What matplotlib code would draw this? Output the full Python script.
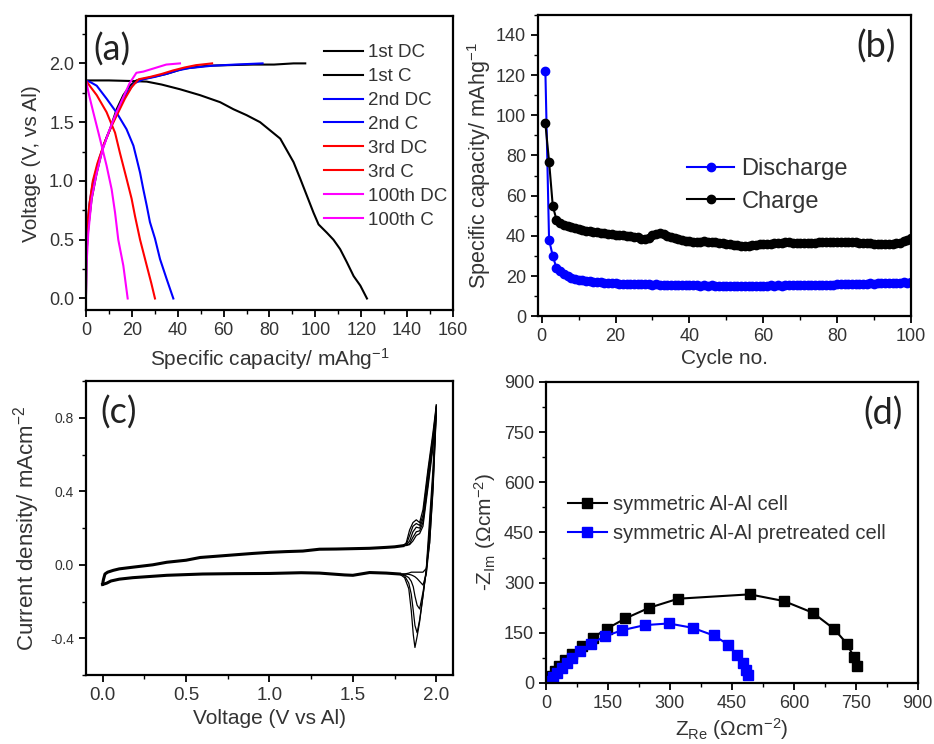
import numpy as np
import matplotlib
matplotlib.use("Agg")
import matplotlib.pyplot as plt
from matplotlib.ticker import MultipleLocator, FormatStrFormatter

plt.rcParams['font.family'] = ['Liberation Sans', 'DejaVu Sans']
plt.rcParams['mathtext.default'] = 'regular'
TXT = '#333333'

# ---- (a) charge / discharge profiles (capacity mAh/g, voltage V)
dc1_cap = [0, 10, 20, 26.5, 33, 41, 49.7, 58.5, 64.3, 70, 75.9, 80.3, 84.7, 87.6, 90.5, 93.4,
           96.3, 99.2, 101.4, 105, 107.9, 110.8, 113.7, 116.7, 119.6, 122.5]
dc1_v = [1.855, 1.855, 1.85, 1.845, 1.82, 1.78, 1.73, 1.67, 1.61, 1.56, 1.5, 1.43, 1.36, 1.26, 1.16, 1.02,
         0.875, 0.73, 0.63, 0.56, 0.5, 0.42, 0.31, 0.19, 0.11, 0.0]
c1_cap = [0, 0.3, 1, 2.5, 4.7, 7.6, 10.5, 13.4, 16.3, 19.2, 22, 28, 35, 42.5, 52.7, 62, 73, 82, 90.5, 95.6]
c1_v = [0.0, 0.4, 0.6, 0.85, 1.07, 1.3, 1.44, 1.61, 1.73, 1.81, 1.855, 1.88, 1.91, 1.955, 1.98, 1.985,
        1.99, 1.99, 2.0, 2.0]
dc2_cap = [0, 2, 4.7, 9, 13.4, 17.7, 20.7, 22.1, 23.6, 25, 26.5, 27.9, 30.1, 32.3, 35.2, 38.1]
dc2_v = [1.855, 1.84, 1.81, 1.7, 1.58, 1.44, 1.3, 1.19, 1.07, 0.93, 0.79, 0.65, 0.51, 0.335, 0.165, 0.0]
c2_cap = [0, 0.5, 1.5, 3, 6, 9, 12, 15, 18, 21, 25, 30, 35, 40, 45, 55, 65, 77]
c2_v = [0.3, 0.55, 0.8, 0.98, 1.2, 1.37, 1.51, 1.64, 1.75, 1.83, 1.865, 1.885, 1.91, 1.94, 1.96, 1.98, 1.99, 2.0]
dc3_cap = [0, 2, 4.7, 9, 12.7, 14.8, 17.7, 19.9, 21.4, 23.6, 26.5, 28.5, 30.1]
dc3_v = [1.855, 1.8, 1.73, 1.585, 1.41, 1.24, 1.02, 0.85, 0.7, 0.5, 0.28, 0.13, 0.0]
c3_cap = [0, 0.5, 1.5, 3, 5, 8, 11, 14, 17, 20, 23, 28, 33, 38, 43, 48, 55]
c3_v = [0.35, 0.6, 0.8, 1.0, 1.15, 1.32, 1.46, 1.58, 1.7, 1.8, 1.865, 1.885, 1.91, 1.94, 1.965, 1.985, 2.0]
dc100_cap = [0, 0, 1.5, 3.2, 6.1, 9, 11.2, 12.7, 14.1, 16.3, 18.2]
dc100_v = [2.0, 1.855, 1.72, 1.585, 1.36, 1.13, 0.93, 0.73, 0.5, 0.28, 0.0]
c100_cap = [0, 0.3, 1, 2.5, 4.5, 7, 10, 13, 16, 19, 22, 25, 30, 35, 41]
c100_v = [0.0, 0.3, 0.55, 0.85, 1.05, 1.25, 1.42, 1.57, 1.7, 1.83, 1.92, 1.93, 1.96, 1.99, 2.0]

# ---- (b) cycling
cycle_no = np.arange(1, 101)
discharge_cap = [122, 38, 30, 24, 22.5, 21, 20, 19.2, 18.6, 18.2,
                 17.9, 17.6, 17.3, 17.1, 16.9, 16.8, 16.6, 16.5, 16.4, 16.3,
                 16.1, 16.2, 16.0, 16.1, 15.9, 16.0, 15.8, 15.9, 15.8, 15.7,
                 15.8, 15.7, 15.6, 15.7, 15.5, 15.6, 15.4, 15.5, 15.4, 15.3,
                 15.4, 15.3, 15.2, 15.3, 15.2, 15.3, 15.2, 15.1, 15.2, 15.1,
                 15.2, 15.1, 15.2, 15.1, 15.2, 15.1, 15.2, 15.2, 15.1, 15.2,
                 15.2, 15.3, 15.2, 15.3, 15.2, 15.3, 15.3, 15.4, 15.3, 15.4,
                 15.4, 15.5, 15.4, 15.6, 15.5, 15.6, 15.6, 15.7, 15.6, 15.8,
                 15.8, 15.9, 16.0, 15.9, 16.1, 16.0, 16.2, 16.1, 16.3, 16.2,
                 16.4, 16.3, 16.5, 16.4, 16.6, 16.5, 16.7, 16.8, 16.7, 17.0]
charge_cap = [96, 77, 55, 48, 46.5, 45.5, 44.8, 44.2, 43.8, 43.4,
              43.0, 42.6, 42.3, 42.0, 41.8, 41.5, 41.3, 41.0, 40.8, 40.6,
              40.4, 40.2, 40.1, 39.9, 39.6, 39.2, 38.6, 38.3, 38.9, 40.2,
              41.0, 41.2, 40.8, 40.1, 39.4, 38.8, 38.3, 37.9, 37.5, 37.3,
              37.1, 37.0, 36.9, 37.2, 37.0, 36.8, 36.7, 36.4, 36.2, 36.0,
              35.8, 35.5, 35.2, 35.0, 34.8, 34.9, 35.2, 35.5, 35.7, 35.8,
              36.0, 36.1, 36.3, 36.4, 36.6, 36.8, 36.7, 36.5, 36.4, 36.5,
              36.6, 36.5, 36.4, 36.6, 36.8, 37.0, 36.9, 36.8, 37.1, 37.0,
              36.9, 36.8, 36.9, 37.0, 36.7, 36.5, 36.4, 36.3, 36.2, 36.0,
              35.9, 35.8, 35.8, 35.9, 36.0, 36.2, 36.6, 37.2, 38.0, 39.0]

# ---- (c) cyclic voltammetry
cv_fwd_v = [0.0, 0.005, 0.014, 0.03, 0.064, 0.1, 0.18, 0.3, 0.385, 0.5, 0.585, 0.7, 0.8, 0.9,
            1.0, 1.1, 1.2, 1.25, 1.3, 1.4, 1.5, 1.6, 1.7, 1.75, 1.8]
cv_fwd_i = [-0.105, -0.08, -0.05, -0.04, -0.03, -0.022, -0.013, 0.0, 0.014, 0.025, 0.04, 0.048, 0.055, 0.062,
            0.068, 0.072, 0.075, 0.08, 0.085, 0.086, 0.088, 0.09, 0.095, 0.098, 0.104]
cv_rev_v = [1.78, 1.7, 1.6, 1.5, 1.45, 1.3, 1.19, 1.0, 0.79, 0.6, 0.385, 0.18, 0.1, 0.05, 0.024, 0.0]
cv_rev_i = [-0.05, -0.045, -0.042, -0.057, -0.055, -0.045, -0.043, -0.047, -0.048, -0.05, -0.057,
            -0.07, -0.078, -0.088, -0.1, -0.107]
anodic_v = [1.80, 1.82, 1.84, 1.86, 1.88, 1.90, 1.92, 1.95, 1.98, 2.0]
anodic_i = [[0.104, 0.12, 0.19, 0.23, 0.245, 0.23, 0.30, 0.52, 0.72, 0.87],
            [0.104, 0.11, 0.16, 0.21, 0.225, 0.215, 0.27, 0.50, 0.70, 0.86],
            [0.104, 0.108, 0.13, 0.18, 0.205, 0.20, 0.25, 0.47, 0.68, 0.85],
            [0.104, 0.106, 0.115, 0.15, 0.18, 0.185, 0.23, 0.44, 0.66, 0.84],
            [0.104, 0.105, 0.11, 0.13, 0.16, 0.17, 0.21, 0.42, 0.64, 0.83]]
cathodic_v = [2.0, 1.98, 1.96, 1.94, 1.92, 1.90, 1.885, 1.872, 1.862, 1.85, 1.835, 1.81, 1.78]
cathodic_i = [[0.87, 0.52, 0.25, -0.02, -0.17, -0.31, -0.39, -0.45, -0.38, -0.25, -0.13, -0.07, -0.05],
              [0.86, 0.48, 0.20, -0.03, -0.17, -0.30, -0.37, -0.33, -0.25, -0.16, -0.10, -0.06, -0.05],
              [0.85, 0.45, 0.17, -0.04, -0.15, -0.24, -0.22, -0.17, -0.12, -0.09, -0.07, -0.055, -0.05],
              [0.84, 0.42, 0.12, -0.05, -0.11, -0.09, -0.075, -0.065, -0.06, -0.055, -0.052, -0.05, -0.05],
              [0.83, 0.40, 0.12, -0.02, -0.04, -0.04, -0.04, -0.04, -0.04, -0.04, -0.045, -0.05, -0.05]]

# ---- (d) Nyquist plots
sym_re = [8, 14, 22, 32, 46, 62, 86, 113, 147, 192, 250, 320, 493, 576, 646, 697, 729, 745, 753]
sym_im = [10, 20, 35, 50, 70, 87, 110, 135, 162, 193, 225, 252, 265, 245, 210, 162, 117, 78, 52]
pre_re = [10, 18, 27, 38, 50, 62, 82, 108, 143, 185, 239, 297, 355, 406, 441, 463, 477, 485, 489]
pre_im = [5, 17, 30, 45, 60, 75, 95, 117, 140, 158, 173, 178, 165, 142, 115, 83, 60, 40, 23]


def style(ax, xlim, ylim, xmaj, xmin, ymaj, ymin, xfs=13, yfs=13):
    ax.set_xlim(xlim)
    ax.set_ylim(ylim)
    ax.xaxis.set_major_locator(MultipleLocator(xmaj))
    ax.xaxis.set_minor_locator(MultipleLocator(xmin))
    ax.yaxis.set_major_locator(MultipleLocator(ymaj))
    ax.yaxis.set_minor_locator(MultipleLocator(ymin))
    ax.tick_params(which='major', direction='out', length=5, width=1.3, colors='black',
                   labelcolor=TXT, top=False, right=False)
    ax.tick_params(which='minor', direction='out', length=3, width=1.0, top=False, right=False)
    ax.tick_params(axis='x', labelsize=xfs)
    ax.tick_params(axis='y', labelsize=yfs)
    for s in ax.spines.values():
        s.set_linewidth(1.6)


fig = plt.figure(figsize=(9.34, 7.44), dpi=100)

# (a)
ax = fig.add_axes([0.092, 0.583, 0.393, 0.395])
curves = [(dc1_cap, dc1_v, 'black', '1st DC'), (c1_cap, c1_v, 'black', '1st C'),
          (dc2_cap, dc2_v, '#0000ff', '2nd DC'), (c2_cap, c2_v, '#0000ff', '2nd C'),
          (dc3_cap, dc3_v, '#ff0000', '3rd DC'), (c3_cap, c3_v, '#ff0000', '3rd C'),
          (dc100_cap, dc100_v, '#ff00ff', '100th DC'), (c100_cap, c100_v, '#ff00ff', '100th C')]
for cap, v, col, lab in curves:
    ax.plot(cap, v, color=col, lw=1.5, label=lab)
style(ax, (0, 160), (-0.1, 2.4), 20, 10, 0.5, 0.25)
ax.yaxis.set_major_formatter(FormatStrFormatter('%.1f'))
ax.set_xlabel('Specific capacity/ mAhg$^{-1}$', fontsize=15, color=TXT, labelpad=5)
ax.set_ylabel('Voltage (V, vs Al)', fontsize=15, color=TXT, labelpad=6)
ax.legend(loc='upper left', bbox_to_anchor=(0.648, 0.905), frameon=False, fontsize=13.5,
          handlelength=2.1, handletextpad=0.25, labelspacing=0.36, borderpad=0, borderaxespad=0,
          labelcolor=TXT)
ax.text(0.02, 0.945, '(a)', transform=ax.transAxes, fontsize=26, family=['Lato', 'DejaVu Sans'],
        va='top', ha='left', color='#222222')

# (b)
ax = fig.add_axes([0.576, 0.575, 0.3994, 0.405])
ax.plot(cycle_no, discharge_cap, color='#0000ff', marker='o', ms=6, lw=1.5, label='Discharge')
ax.plot(cycle_no, charge_cap, color='black', marker='o', ms=6, lw=1.5, label='Charge')
style(ax, (-1, 100), (0, 150), 20, 10, 20, 10)
ax.set_xlabel('Cycle no.', fontsize=15, color=TXT, labelpad=3)
ax.set_ylabel('Specific capacity/ mAhg$^{-1}$', fontsize=15.5, color=TXT, labelpad=2)
ax.legend(loc='upper left', bbox_to_anchor=(0.40, 0.525), frameon=False, fontsize=17,
          handlelength=2.0, handletextpad=0.3, labelspacing=0.45, borderpad=0, borderaxespad=0,
          labelcolor=TXT)
ax.text(0.96, 0.95, '(b)', transform=ax.transAxes, fontsize=26, family=['Lato', 'DejaVu Sans'],
        va='top', ha='right', color='#222222')

# (c)
ax = fig.add_axes([0.092, 0.0927, 0.393, 0.395])
ax.plot(cv_fwd_v, cv_fwd_i, color='black', lw=2.2)
ax.plot(cv_rev_v, cv_rev_i, color='black', lw=2.2)
for a_i, c_i in zip(anodic_i, cathodic_i):
    ax.plot(anodic_v, a_i, color='black', lw=0.9)
    ax.plot(cathodic_v, c_i, color='black', lw=0.9)
style(ax, (-0.1, 2.1), (-0.6, 1.0), 0.5, 0.25, 0.4, 0.2, xfs=13.5, yfs=10)
ax.xaxis.set_major_formatter(FormatStrFormatter('%.1f'))
ax.yaxis.set_major_formatter(FormatStrFormatter('%.1f'))
ax.set_xlabel('Voltage (V vs Al)', fontsize=15, color=TXT, labelpad=4)
ax.set_ylabel('Current density/ mAcm$^{-2}$', fontsize=16, color=TXT, labelpad=6)
ax.text(0.04, 0.95, '(c)', transform=ax.transAxes, fontsize=26, family=['Lato', 'DejaVu Sans'],
        va='top', ha='left', color='#222222')

# (d)
ax = fig.add_axes([0.5846, 0.082, 0.398, 0.4046])
ax.plot(sym_re, sym_im, color='black', marker='s', ms=6.5, lw=1.5, label='symmetric Al-Al cell')
ax.plot(pre_re, pre_im, color='#0000ff', marker='s', ms=6.5, lw=1.5,
        label='symmetric Al-Al pretreated cell')
style(ax, (0, 900), (0, 900), 150, 75, 150, 75)
ax.set_xlabel('Z$_{Re}$ (Ωcm$^{-2}$)', fontsize=15, color=TXT, labelpad=3)
ax.set_ylabel('-Z$_{Im}$ (Ωcm$^{-2}$)', fontsize=15, color=TXT, labelpad=4)
ax.legend(loc='upper left', bbox_to_anchor=(0.06, 0.625), frameon=False, fontsize=14.5,
          handlelength=1.9, handletextpad=0.3, labelspacing=0.5, borderpad=0, borderaxespad=0,
          labelcolor=TXT)
ax.text(0.96, 0.95, '(d)', transform=ax.transAxes, fontsize=26, family=['Lato', 'DejaVu Sans'],
        va='top', ha='right', color='#222222')

fig.savefig('out.png', dpi=100)
